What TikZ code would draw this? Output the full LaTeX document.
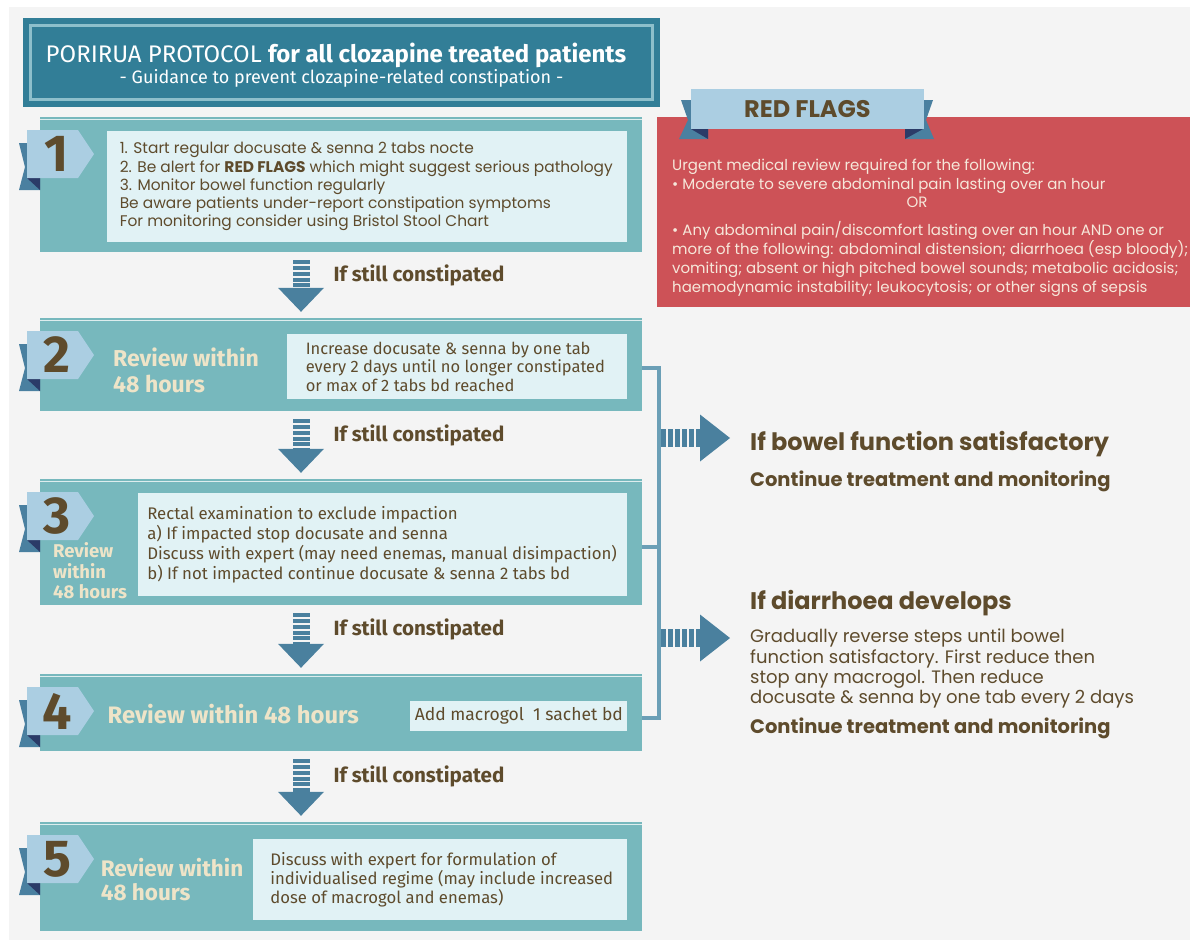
\documentclass[tikz,border=0pt]{standalone}
\usepackage{fontspec}
\setmainfont{Poppins}
\newfontfamily\dinfont{Fira Sans}
\usepackage{tikz}
\usetikzlibrary{arrows.meta,positioning}
\definecolor{bggrey}{HTML}{F4F4F4}
\definecolor{titleteal}{HTML}{327E97}
\definecolor{titleline}{HTML}{8DBFCB}
\definecolor{panelteal}{HTML}{77B8BD}
\definecolor{boxfill}{HTML}{E1F2F5}
\definecolor{tabblue}{HTML}{ABCEE2}
\definecolor{ribbon}{HTML}{4A80A0}
\definecolor{ribbondark}{HTML}{2B3B68}
\definecolor{arrowblue}{HTML}{4A809E}
\definecolor{bracketblue}{HTML}{6B9FB6}
\definecolor{flagred}{HTML}{CD5257}
\definecolor{flagtext}{HTML}{F6E7DA}
\definecolor{textbrown}{HTML}{5E4B2C}
\definecolor{reviewcream}{HTML}{EEE4C8}

\begin{document}
\begin{tikzpicture}[x=1pt, y=-1pt,
  panel/.style={fill=panelteal, minimum width=602pt, inner sep=0pt},
  innerbox/.style={fill=boxfill, inner sep=0pt, anchor=north east},
  steptext/.style={align=left, text=textbrown, inner sep=0pt, font=\fontsize{15.4}{18.3}\selectfont},
  boxtext/.style={align=left, text=textbrown, inner sep=0pt, font=\dinfont\fontsize{16.5}{18.3}\selectfont},
  review/.style={align=left, text=reviewcream, inner sep=0pt, anchor=west, font=\dinfont\bfseries\fontsize{23}{26}\selectfont},
  digit/.style={text=textbrown, inner sep=0pt, font=\dinfont\bfseries\fontsize{52}{52}\selectfont},
  flow/.style={draw=arrowblue, line width=17pt, dash pattern=on 4pt off 1.8pt, shorten <=8pt, shorten >=6pt,
    -{Triangle[width=46pt, length=24pt, line width=0pt]}},
  flowlabel/.style={text=textbrown, inner sep=0pt, anchor=west, font=\dinfont\bfseries\fontsize{20.6}{22}\selectfont},
  sidearrow/.style={draw=arrowblue, line width=18pt, dash pattern=on 4.5pt off 2.5pt, shorten >=20pt,
    -{Triangle[width=47pt, length=30pt, line width=0pt]}},
  bracket/.style={draw=bracketblue, line width=4.5pt},
  sidehead/.style={text=textbrown, inner sep=0pt, font=\bfseries\fontsize{24}{26}\selectfont},
  sidesub/.style={text=textbrown, inner sep=0pt, font=\bfseries\fontsize{19.5}{22}\selectfont},
  sidebody/.style={text=textbrown, inner sep=0pt, align=left, font=\fontsize{18}{20.3}\selectfont},
  flagbody/.style={text=flagtext, inner sep=0pt, align=left, font=\fontsize{15}{19}\selectfont}
]
\useasboundingbox (0,0) rectangle (1190,940);
\fill[white] (0,0) rectangle (1190,940);
\fill[bggrey] (9,7) rectangle (1190,940);

% Title
\node[fill=titleteal, minimum width=637pt, minimum height=89pt, inner sep=0pt, anchor=north west] (titlebox) at (23,18) {};
\draw[titleline, line width=2.5pt] (30.5,25.5) rectangle (652.5,99.5);
\node[text=white, inner sep=0pt, anchor=base, font=\dinfont\fontsize{24}{26}\selectfont] (title) at (336,62)
  {PORIRUA PROTOCOL \textbf{for all clozapine treated patients}};
\node[text=white, inner sep=0pt, anchor=base, font=\dinfont\fontsize{18}{20}\selectfont] (subtitle) at (341.5,83)
  {- Guidance to prevent clozapine-related constipation -};

% Step panels
\node[panel, minimum height=135pt] (s1) at (341,184.5) {};
\node[panel, minimum height=93pt] (s2) at (341,364.5) {};
\node[panel, minimum height=126pt] (s3) at (341,542) {};
\node[panel, minimum height=77pt] (s4) at (341,712.5) {};
\node[panel, minimum height=109pt] (s5) at (341,876.5) {};

% Number tabs
\foreach \n/\py in {1/117, 2/318, 3/479, 4/674, 5/822} {
  \draw[white!75!panelteal, line width=1pt] (40,\py+2) -- (642,\py+2);
  \fill[ribbon] (19,\py+26) -- (27,\py+26) -- (27,\py+61) -- (40,\py+61) -- (40,\py+73) -- (19,\py+73) -- (25,\py+50) -- cycle;
  \fill[ribbondark] (27,\py+61) -- (40,\py+61) -- (40,\py+73) -- cycle;
  \fill[tabblue] (27,\py+13) -- (78,\py+13) -- (94,\py+37) -- (78,\py+61) -- (27,\py+61) -- cycle;
  \node[digit] (d\n) at (57,\py+37) {\n};
}

% Inner boxes and their texts
\node[innerbox, minimum width=520pt, minimum height=111pt] (b1) at (627,131) {};
\node[innerbox, minimum width=340pt, minimum height=65pt] (b2) at (627,334) {};
\node[innerbox, minimum width=489pt, minimum height=103pt] (b3) at (627,493) {};
\node[innerbox, minimum width=217pt, minimum height=30pt] (b4) at (627,701) {};
\node[innerbox, minimum width=374pt, minimum height=81pt] (b5) at (627,839) {};

\node[steptext, right=13pt of b1.west] (t1) {1. Start regular docusate \& senna 2 tabs nocte\\
  2. Be alert for \textbf{RED FLAGS} which might suggest serious pathology\\
  3. Monitor bowel function regularly\\
  Be aware patients under-report constipation symptoms\\
  For monitoring consider using Bristol Stool Chart};
\node[boxtext, right=19pt of b2.west] (t2) {Increase docusate \& senna by one tab\\
  every 2 days until no longer constipated\\
  or max of 2 tabs bd reached};
\node[boxtext, font=\dinfont\fontsize{16.8}{20.3}\selectfont, right=9.5pt of b3.west] (t3) {Rectal examination to exclude impaction\\
  a) If impacted stop docusate and senna\\
  Discuss with expert (may need enemas, manual disimpaction)\\
  b) If not impacted continue docusate \& senna 2 tabs bd};
\node[boxtext, font=\dinfont\fontsize{17.5}{19}\selectfont, right=5pt of b4.west] (t4) {Add macrogol\ \ 1 sachet bd};
\node[boxtext, font=\dinfont\fontsize{16.7}{19}\selectfont, right=17.5pt of b5.west] (t5) {Discuss with expert for formulation of\\
  individualised regime (may include increased\\
  dose of macrogol and enemas)};

% Review notes
\node[review] (r2) at (113,370) {Review within\\48 hours};
\node[review, font=\dinfont\bfseries\fontsize{18.5}{20.5}\selectfont] (r3) at (53,571) {Review\\within\\48 hours};
\node[review, font=\dinfont\bfseries\fontsize{23.8}{26}\selectfont] (r4) at (107.5,714) {Review within 48 hours};
\node[review, font=\dinfont\bfseries\fontsize{22.5}{24}\selectfont] (r5) at (100.6,880) {Review within\\48 hours};

% Flow arrows
\draw[flow] ([xshift=-40pt]s1.south) -- node[flowlabel, pos=0.36, xshift=24pt] (l1) {If still constipated} ([xshift=-40pt]s2.north);
\draw[flow] ([xshift=-40pt]s2.south) -- node[flowlabel, pos=0.36, xshift=24pt] (l2) {If still constipated} ([xshift=-40pt]s3.north);
\draw[flow] ([xshift=-40pt]s3.south) -- node[flowlabel, pos=0.36, xshift=24pt] (l3) {If still constipated} ([xshift=-40pt]s4.north);
\draw[flow] ([xshift=-40pt]s4.south) -- node[flowlabel, pos=0.36, xshift=24pt] (l4) {If still constipated} ([xshift=-40pt]s5.north);

% Bracket
\draw[bracket] (s2.east) ++(0,3.5) -- ++(17,0) |- ([yshift=-5.5pt]s4.east);
\draw[bracket] (s3.east) ++(0,5) -- ++(17,0);
\coordinate (j1) at (661,438);
\coordinate (j2) at (661,638);

% Outcomes
\node[sidehead, anchor=base west] (sat) at (750,450) {If bowel function satisfactory};
\node[sidesub, anchor=base west] (sat2) at (750,486) {Continue treatment and monitoring};
\node[sidehead, anchor=base west] (dia) at (750,609) {If diarrhoea develops};
\node[sidebody, anchor=north west] (dia2) at (750,629) {Gradually reverse steps until bowel\\
  function satisfactory. First reduce then\\
  stop any macrogol. Then reduce\\
  docusate \& senna by one tab every 2 days};
\node[sidesub, anchor=base west] (dia3) at (750,733) {Continue treatment and monitoring};
\draw[sidearrow] (j1) -- (j1 -| sat.west);
\draw[sidearrow] (j2) -- (j2 -| dia.west);

% Red flags
\node[fill=flagred, minimum width=533.5pt, minimum height=190pt, inner sep=0pt, anchor=north west] (flags) at (656.5,117) {};
\fill[ribbon] (681,100) -- (695,100) -- (695,129) -- (708,129) -- (708,139) -- (679,139) -- (688,120) -- cycle;
\fill[ribbondark] (691,129) -- (708,129) -- (708,139) -- cycle;
\fill[ribbon] (919,100) -- (933,100) -- (926,120) -- (934,139) -- (905,139) -- (905,129) -- (919,129) -- cycle;
\fill[ribbondark] (923,129) -- (905,129) -- (905,139) -- cycle;
\node[fill=tabblue, minimum width=232.5pt, minimum height=40pt, inner sep=0pt, anchor=north west,
  text=textbrown, font=\bfseries\fontsize{24}{26}\selectfont] (banner) at (691,89) {RED FLAGS};
\node[flagbody, anchor=north west] (rf1) at (672,159) {Urgent medical review required for the following:\\
  • Moderate to severe abdominal pain lasting over an hour};
\node[flagbody, anchor=base] (rfor) at (917,207) {OR};
\node[flagbody, anchor=north west] (rf2) at (672,221) {• Any abdominal pain/discomfort lasting over an hour AND one or\\
  more of the following: abdominal distension; diarrhoea (esp bloody);\\
  vomiting; absent or high pitched bowel sounds; metabolic acidosis;\\
  haemodynamic instability; leukocytosis; or other signs of sepsis};
\end{tikzpicture}
\end{document}
